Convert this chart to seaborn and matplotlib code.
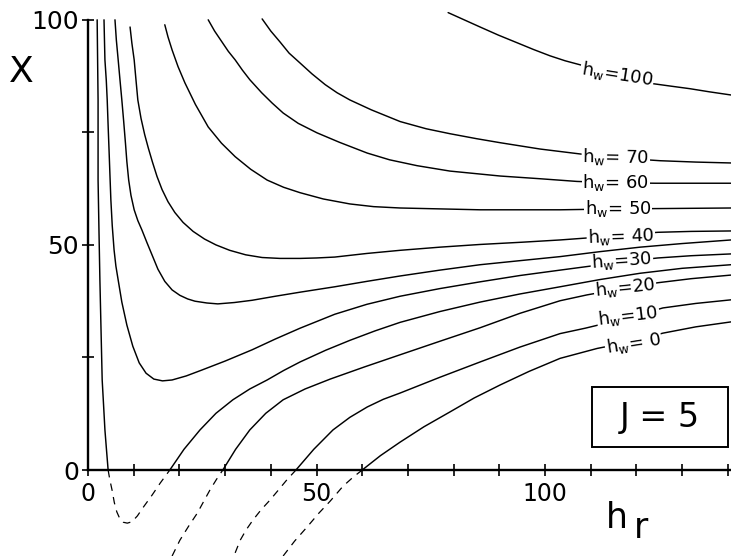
import matplotlib
matplotlib.use("Agg")
import matplotlib.pyplot as plt
from matplotlib.patches import Rectangle
import seaborn as sns

# curve points (hr, X)
hw100_hr = [78.8, 82.3, 85.8, 89.8, 93.9, 97.5, 101.1, 104.4, 107.7, 111.5, 115.3, 119.0,
            123.0, 127.3, 131.7, 136.0, 140.7]
hw100_x = [101.6, 100.0, 98.4, 96.6, 94.9, 93.4, 92.0, 90.9, 90.0, 88.9, 87.8, 86.8,
           85.9, 85.3, 84.7, 84.0, 83.3]

hw70_hr = [38.1, 40.0, 42.0, 44.0, 46.4, 49.0, 51.9, 54.5, 57.3, 62.0, 68.3, 74.0, 79.2,
           85.0, 90.2, 98.9, 107.7, 116.4, 125.2, 133.0, 140.7]
hw70_x = [100.2, 97.5, 95.1, 92.6, 90.4, 88.0, 85.6, 83.8, 82.2, 80.0, 77.4, 75.8, 74.7,
          73.6, 72.7, 71.3, 70.2, 69.3, 68.7, 68.4, 68.2]

hw60_hr = [26.3, 27.7, 29.3, 30.7, 32.2, 33.8, 35.4, 38.0, 40.3, 42.7, 46.0, 50.1, 55.0,
           61.1, 66.0, 72.0, 79.2, 90.2, 98.9, 107.0, 115.5, 124.1, 140.7]
hw60_x = [100.0, 97.5, 95.1, 93.0, 91.1, 88.8, 86.7, 83.8, 81.5, 79.3, 77.0, 74.9, 72.8,
          70.4, 68.9, 67.6, 66.4, 65.3, 64.7, 64.1, 63.8, 63.7, 63.7]

hw50_hr = [16.8, 17.5, 18.4, 19.7, 21.2, 23.5, 26.3, 29.2, 32.2, 35.6, 39.2, 42.8, 46.4,
           51.5, 57.3, 62.5, 68.3, 77.0, 85.8, 103.3, 116.0, 140.7]
hw50_x = [98.9, 96.2, 93.3, 89.6, 86.0, 81.2, 76.2, 72.6, 69.6, 66.8, 64.4, 62.8, 61.6,
          60.2, 59.1, 58.5, 58.2, 58.0, 57.8, 57.8, 58.0, 58.2]

hw40_hr = [9.2, 9.6, 10.1, 10.5, 10.9, 11.6, 12.4, 13.2, 14.1, 15.1, 16.2, 17.5, 19.0,
           20.8, 23.0, 25.5, 28.0, 31.0, 34.5, 38.1, 42.0, 46.4, 50.0, 54.0, 61.0, 68.3,
           77.0, 85.8, 95.0, 103.3, 110.0, 116.6, 124.7, 132.0, 140.7]
hw40_x = [98.4, 94.8, 91.1, 86.6, 82.2, 78.1, 74.5, 71.5, 68.4, 65.2, 62.3, 59.6, 57.2,
          55.0, 53.0, 51.3, 50.0, 48.8, 47.8, 47.2, 47.0, 47.0, 47.1, 47.3, 48.1, 48.8,
          49.5, 50.1, 50.6, 51.1, 51.6, 52.2, 52.8, 53.0, 53.1]

# unlabeled curve between 40 and 30
c_hr = [5.9, 6.2, 6.6, 7.0, 7.4, 7.8, 8.2, 8.5, 8.9, 9.4, 10.1, 10.9, 11.8, 12.9, 14.0,
        15.3, 16.8, 18.4, 20.1, 21.8, 23.4, 26.0, 28.4, 32.0, 35.9, 41.0, 46.4, 54.0,
        61.0, 68.3, 77.0, 85.8, 94.5, 103.3, 112.0, 120.8, 130.0, 140.7]
c_x = [100.0, 95.5, 91.1, 86.6, 82.2, 77.5, 72.5, 68.5, 64.4, 61.0, 57.8, 55.4, 53.3,
       50.5, 47.8, 44.6, 41.9, 40.0, 38.8, 38.0, 37.5, 37.1, 36.9, 37.2, 37.7, 38.6,
       39.5, 40.7, 41.9, 43.1, 44.4, 45.6, 46.5, 47.4, 48.5, 49.5, 50.3, 51.1]

hw30_hr = [3.5, 3.6, 3.7, 4.0, 4.2, 4.4, 4.6, 4.8, 5.0, 5.3, 5.7, 6.1, 6.6, 7.4, 8.5, 9.8,
           11.2, 12.7, 14.4, 16.3, 18.4, 21.5, 24.9, 30.0, 35.9, 41.0, 46.4, 54.0, 61.0,
           68.3, 77.0, 85.8, 94.5, 103.3, 110.0, 116.4, 124.7, 132.0, 140.7]
hw30_x = [100.0, 95.5, 91.1, 86.5, 82.2, 76.5, 71.1, 65.5, 60.0, 54.3, 48.9, 45.3, 42.2,
          37.3, 32.2, 27.5, 23.8, 21.5, 20.2, 19.8, 20.0, 20.9, 22.2, 24.2, 26.7, 29.1,
          31.5, 34.6, 36.8, 38.6, 40.3, 41.8, 43.2, 44.4, 45.3, 46.2, 47.1, 47.6, 48.0]

# unlabeled curve between 30 and 20 (dips below the axis)
a_hr = [2.0, 2.1, 2.2, 2.2, 2.4, 2.6, 2.85, 3.1, 3.4, 3.7, 4.05, 4.4]
a_x = [100.0, 91.0, 82.2, 64.4, 53.0, 42.2, 31.0, 20.0, 14.5, 8.9, 4.4, 0.0]
a_dash_hr = [4.4, 4.8, 5.25, 5.75, 6.3, 7.0, 7.7, 8.6, 9.6, 10.8, 12.0, 14.0, 15.8, 17.9]
a_dash_x = [0.0, -2.3, -4.4, -7.2, -9.3, -10.9, -11.6, -11.8, -11.5, -10.2, -8.4, -5.6,
            -2.9, 0.0]
a2_hr = [17.9, 21.0, 24.5, 28.0, 31.7, 35.4, 39.2, 42.8, 46.4, 52.0, 57.3, 62.8, 68.3,
         77.0, 85.8, 94.5, 103.3, 112.0, 120.8, 130.0, 140.7]
a2_x = [0.0, 4.6, 8.9, 12.6, 15.6, 18.0, 20.0, 22.1, 24.0, 26.6, 28.8, 30.9, 32.8, 35.2,
        37.3, 39.1, 40.7, 42.3, 43.7, 44.8, 45.6]

hw20_hr = [29.5, 32.3, 35.4, 38.9, 42.7, 47.5, 53.0, 60.5, 68.3, 77.0, 85.8, 94.5, 103.3,
           109.2, 117.5, 124.7, 132.0, 140.7]
hw20_x = [0.0, 4.6, 8.9, 12.6, 15.6, 18.0, 20.2, 22.9, 25.6, 28.6, 31.6, 34.8, 37.6,
          38.9, 40.4, 41.6, 42.5, 43.3]
hw20_dash_hr = [18.4, 20.1, 22.0, 23.9, 25.3, 26.7, 28.1, 29.5]
hw20_dash_x = [-19.1, -15.6, -12.5, -9.6, -7.0, -4.4, -2.1, 0.0]

hw10_hr = [45.5, 49.4, 53.6, 57.3, 61.1, 64.6, 68.3, 77.0, 85.8, 94.5, 103.3, 108.8,
           118.2, 125.8, 133.0, 140.7]
hw10_x = [0.0, 4.6, 8.9, 11.7, 14.0, 15.7, 17.1, 20.6, 24.0, 27.3, 30.3, 31.5, 33.8,
          36.0, 37.0, 37.8]
hw10_dash_hr = [32.2, 33.3, 34.6, 36.1, 37.9, 39.8, 41.7, 43.5, 45.5]
hw10_dash_x = [-18.4, -15.6, -13.3, -11.1, -8.8, -6.7, -4.4, -2.2, 0.0]

hw0_hr = [60.0, 64.0, 68.3, 73.5, 79.2, 84.5, 90.2, 96.5, 103.3, 111.4, 119.3, 125.8,
          133.0, 140.7]
hw0_x = [0.0, 3.2, 6.2, 9.6, 12.9, 16.0, 18.9, 21.9, 24.8, 27.0, 28.6, 30.4, 31.8, 32.9]
hw0_dash_hr = [42.7, 45.2, 47.9, 50.5, 53.0, 55.8, 58.0, 60.0]
hw0_dash_x = [-19.1, -15.8, -12.7, -9.6, -6.9, -3.6, -1.6, 0.0]

labels = ["100", " 70", " 60", " 50", " 40", "30", "20", "10", " 0"]
label_hr = [115.8, 115.5, 115.5, 116.0, 116.6, 116.8, 117.5, 118.2, 119.3]
label_x = [88.0, 69.6, 63.8, 58.0, 52.0, 46.6, 40.6, 34.2, 28.2]
label_rot = [-9, -1, 0, 0, 2, 4, 6, 7, 9]

sns.set_theme(style="white")
plt.rcParams["font.family"] = ["DejaVu Sans"]
plt.rcParams["mathtext.fontset"] = "dejavusans"
plt.rcParams["text.color"] = "black"

fig = plt.figure(figsize=(7.31, 5.56), dpi=100)
ax = fig.add_axes([0, 0, 1, 1])

labelled = [(hw100_hr, hw100_x), (hw70_hr, hw70_x), (hw60_hr, hw60_x), (hw50_hr, hw50_x),
            (hw40_hr, hw40_x), (hw30_hr, hw30_x), (hw20_hr, hw20_x), (hw10_hr, hw10_x),
            (hw0_hr, hw0_x)]
for xs, ys in labelled:
    sns.lineplot(x=xs, y=ys, sort=False, estimator=None, color="black", lw=1.05, ax=ax, zorder=2)

# unlabeled curves run between the labels, keep them on top
for xs, ys in [(c_hr, c_x), (a_hr, a_x), (a2_hr, a2_x)]:
    sns.lineplot(x=xs, y=ys, sort=False, estimator=None, color="black", lw=1.05, ax=ax, zorder=4)

for xs, ys in [(a_dash_hr, a_dash_x), (hw20_dash_hr, hw20_dash_x),
               (hw10_dash_hr, hw10_dash_x), (hw0_dash_hr, hw0_dash_x)]:
    sns.lineplot(x=xs, y=ys, sort=False, estimator=None, color="black", lw=0.9,
                 linestyle=(0, (6, 5)), ax=ax, zorder=2)

for t, lx, ly, r in zip(labels, label_hr, label_x, label_rot):
    ax.text(lx, ly, r"$\mathregular{h_w}$=" + t, fontsize=13, ha="center", va="center",
            rotation=r, rotation_mode="anchor", zorder=3, color="black",
            bbox=dict(boxstyle="square,pad=0.05", fc="white", ec="none"))

ax.set_xlim(-19.26, 140.7)
ax.set_ylim(-19.1, 104.4)

for s in ["top", "right"]:
    ax.spines[s].set_visible(False)
for s in ["left", "bottom"]:
    ax.spines[s].set_position(("data", 0))
    ax.spines[s].set_color("black")
    ax.spines[s].set_linewidth(1.7)
ax.spines["left"].set_bounds(0, 100)
ax.spines["bottom"].set_bounds(0, 140.7)

ax.set_xticks([0, 50, 100])
ax.set_xticks([10, 20, 30, 40, 60, 70, 80, 90, 110, 120, 130, 140], minor=True)
ax.set_yticks([0, 50, 100])
ax.set_yticks([25, 75], minor=True)
ax.tick_params(which="both", direction="inout", length=9, width=1.2, color="black",
               bottom=True, left=True)
ax.tick_params(axis="x", labelsize=17, pad=4, labelcolor="black")
ax.tick_params(axis="y", labelsize=18, pad=2, labelcolor="black")

ax.text(-14.5, 88.5, "X", fontsize=26, ha="center", va="center", color="black")
ax.text(115.8, -10.7, "h", fontsize=25, ha="center", va="center", color="black")
ax.text(121.0, -12.9, "r", fontsize=25, ha="center", va="center", color="black")

# J = 5 box
ax.add_patch(Rectangle((110.3, 5.1), 29.8, 13.3, fill=False, ec="black", lw=1.4, zorder=5))
ax.text(125.2, 11.6, "J = 5", fontsize=24, ha="center", va="center", color="black")

fig.savefig("out.png", dpi=100)
